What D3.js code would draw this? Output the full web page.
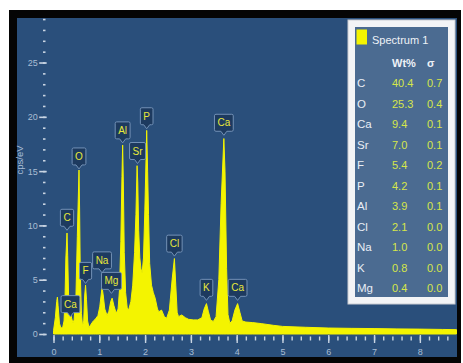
<!DOCTYPE html>
<html><head><meta charset="utf-8">
<script src="https://cdn.jsdelivr.net/npm/d3@7"></script>
<style>
html,body{margin:0;padding:0;background:#fff;}
svg{display:block;font-family:"Liberation Sans",Arial,sans-serif;}
</style></head><body>
<svg id="chart" width="463" height="363"></svg>
<script>
// EDS spectrum: energy (keV) against counts (cps/eV)
const energy = [0.00,0.04,0.07,0.085,0.10,0.13,0.16,0.20,0.23,0.25,0.27,0.295,0.31,0.33,0.35,0.37,0.40,0.425,0.45,0.49,0.52,0.557,0.57,0.585,0.61,0.635,0.66,0.68,0.70,0.72,0.745,0.775,0.82,0.87,0.92,0.97,1.01,1.06,1.085,1.12,1.17,1.21,1.25,1.28,1.32,1.37,1.41,1.44,1.47,1.495,1.51,1.525,1.545,1.575,1.61,1.64,1.69,1.73,1.77,1.80,1.825,1.84,1.86,1.885,1.91,1.935,1.965,1.995,2.035,2.055,2.075,2.10,2.14,2.18,2.22,2.27,2.30,2.36,2.42,2.47,2.53,2.59,2.64,2.67,2.70,2.73,2.80,2.88,2.95,3.05,3.15,3.24,3.29,3.34,3.38,3.43,3.49,3.55,3.61,3.66,3.72,3.745,3.78,3.81,3.85,3.90,3.96,4.02,4.07,4.12,4.20,4.35,4.55,4.80,5.00,5.50,6.00,6.50,7.00,7.50,8.00,8.50,8.80];
const counts = [0.3,1.5,3.0,3.4,2.6,1.0,0.55,0.6,1.2,3.0,7.0,9.3,7.2,3.4,1.6,1.9,1.4,1.0,1.3,3.5,9.0,15.1,11.5,5.5,1.9,0.7,1.2,3.5,4.5,3.2,1.2,0.6,0.9,1.2,1.4,1.7,2.5,4.3,3.6,2.3,1.7,2.1,3.0,3.3,2.6,1.9,2.3,4.0,8.5,14.5,17.4,14.0,7.5,3.8,2.4,2.2,3.0,4.5,7.5,11.0,15.5,14.0,9.5,7.0,6.0,5.6,7.0,11.5,18.75,15.0,11.0,6.5,4.5,3.8,3.3,2.3,2.05,2.2,1.6,1.45,2.2,5.0,6.95,4.5,2.0,1.6,1.75,1.5,1.35,1.3,1.3,1.5,2.3,2.8,2.1,1.3,1.15,1.6,5.0,12.0,18.0,15.0,6.0,1.8,1.0,1.2,2.2,2.8,2.0,1.2,1.1,1.05,0.95,0.8,0.7,0.62,0.55,0.52,0.5,0.47,0.45,0.42,0.4];

// Peak identification callouts: element, line energy (keV), height of pointer tip (cps/eV)
const peakNames  = ["C","Ca","O","F","Na","Mg","Al","Sr","P","Cl","K","Ca","Ca"];
const peakEnergy = [0.295,0.37,0.557,0.70,1.06,1.265,1.51,1.835,2.035,2.64,3.34,3.72,4.02];
const peakTip    = [9.55,1.6,15.2,4.66,5.63,3.74,17.6,15.7,18.9,7.17,3.1,18.3,3.1];

// Quantification table
const elements  = ["C","O","Ca","Sr","F","P","Al","Cl","Na","K","Mg"];
const wtPercent = [40.4,25.3,9.4,7.0,5.4,4.2,3.9,2.1,1.0,0.8,0.4];
const sigma     = [0.7,0.4,0.1,0.1,0.2,0.1,0.1,0.0,0.0,0.0,0.0];

const yMajorTicks = [0,5,10,15,20,25];
const xMajorTicks = [0,1,2,3,4,5,6,7,8];

const svg = d3.select("#chart");

// frame and plot background
svg.append("rect").attr("x",9).attr("y",10).attr("width",452).attr("height",353).attr("fill","#050505");
svg.append("rect").attr("x",17).attr("y",18).attr("width",440).attr("height",339).attr("fill","#2a4f7b");

const x = d3.scaleLinear().domain([0, 8.8]).range([53.5, 456.5]);
const y = d3.scaleLinear().domain([0, 29.1]).range([334, 18]);

svg.append("clipPath").attr("id","plotClip")
  .append("rect").attr("x",17).attr("y",18).attr("width",440).attr("height",339);

// spectrum
const area = d3.area()
  .x((d,i) => x(energy[i]))
  .y0(y(0))
  .y1((d,i) => y(counts[i]));
svg.append("path")
  .datum(counts)
  .attr("clip-path","url(#plotClip)")
  .attr("d", area)
  .attr("fill","#f4f400")
  .attr("stroke","#f4f400")
  .attr("stroke-width",1)
  .attr("stroke-linejoin","round");

// y axis: minor ticks every 1, major every 5
const tickColor = "#c9d5e3";
const labelColor = "#a9bdd4";
const yMinor = svg.append("g").attr("transform","translate(45.5,0)")
  .call(d3.axisLeft(y).tickValues(d3.range(0,30)).tickSize(2.5).tickFormat(""));
const yMajor = svg.append("g").attr("transform","translate(46.7,0)")
  .call(d3.axisLeft(y).tickValues(yMajorTicks).tickSize(7.5).tickPadding(1.5));
[yMinor,yMajor].forEach(g => {
  g.select(".domain").remove();
  g.selectAll("line").attr("stroke",tickColor).attr("stroke-width",1.6);
  g.selectAll("text").attr("fill",labelColor).attr("font-size",9);
});

// x axis: minor ticks every 0.2 keV, major every 1 keV
const xMinor = svg.append("g").attr("transform","translate(0,336.5)")
  .call(d3.axisBottom(x).tickValues(d3.range(0,44).map(i => i*0.2)).tickSize(4).tickFormat(""));
const xMajor = svg.append("g").attr("transform","translate(0,335)")
  .call(d3.axisBottom(x).tickValues(xMajorTicks).tickSize(8).tickPadding(6));
[xMinor,xMajor].forEach(g => {
  g.select(".domain").remove();
  g.selectAll("line").attr("stroke",tickColor).attr("stroke-width",1.4);
  g.selectAll("text").attr("fill",labelColor).attr("font-size",9);
});

// axis title
svg.append("text")
  .attr("transform","translate(23,160) rotate(-90)")
  .attr("text-anchor","middle")
  .attr("fill",labelColor).attr("font-size",9.5)
  .text("cps/eV");

// peak callouts
const callouts = svg.append("g").attr("clip-path","url(#plotClip)");
peakNames.forEach((name,i) => {
  const cx = x(peakEnergy[i]);
  const tip = y(peakTip[i]);
  const g = callouts.append("g");
  const t = g.append("text")
    .attr("x",cx).attr("text-anchor","middle")
    .attr("font-size",10).attr("fill","#e8e83a")
    .text(name);
  const w = t.node().getComputedTextLength() + 6;
  const h = 17, p = 4;
  const top = tip - p - h, l = cx - w/2, r = cx + w/2, b = tip - p;
  const path = `M${l+1.5},${top} H${r-1.5} Q${r},${top} ${r},${top+1.5} V${b-1.5} Q${r},${b} ${r-1.5},${b} H${cx+3} L${cx},${tip} L${cx-3},${b} H${l+1.5} Q${l},${b} ${l},${b-1.5} V${top+1.5} Q${l},${top} ${l+1.5},${top} Z`;
  g.insert("path","text").attr("d",path)
    .attr("fill","#1d3a5f").attr("stroke","#7391b6").attr("stroke-width",1);
  t.attr("y", top + h/2 + 3.5);
});

// quantification panel
const legend = svg.append("g");
legend.append("rect").attr("x",348).attr("y",20).attr("width",107).attr("height",284)
  .attr("fill","#f3f4f6").attr("stroke","#c9ccd2").attr("stroke-width",1);
legend.append("rect").attr("x",355).attr("y",27).attr("width",93).attr("height",270)
  .attr("fill","#4b6b91");
legend.append("rect").attr("x",356.5).attr("y",29.5).attr("width",10.5).attr("height",15)
  .attr("fill","#f4f400");
legend.append("text").attr("x",372).attr("y",44).attr("font-size",11)
  .attr("fill","#eef2f7").text("Spectrum 1");
legend.append("text").attr("x",392).attr("y",67).attr("font-size",11).attr("font-weight","bold")
  .attr("fill","#eef2f7").text("Wt%");
legend.append("text").attr("x",427).attr("y",67).attr("font-size",11).attr("font-weight","bold")
  .attr("fill","#eef2f7").text("σ");
const rows = legend.selectAll("g.row").data(elements).join("g")
  .attr("class","row")
  .attr("transform",(d,i) => `translate(0,${87 + i*20.5})`);
rows.append("text").attr("x",357).attr("font-size",11.5).attr("fill","#e9eef5").text(d => d);
rows.append("text").attr("x",392).attr("font-size",11).attr("fill","#d6e64a")
  .text((d,i) => wtPercent[i].toFixed(1));
rows.append("text").attr("x",427).attr("font-size",11).attr("fill","#d6e64a")
  .text((d,i) => sigma[i].toFixed(1));
</script>
</body></html>
